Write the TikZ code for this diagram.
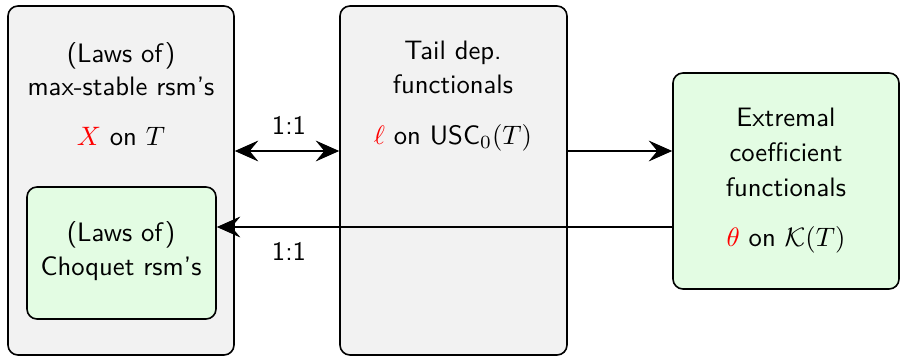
\documentclass[tikz,border=0pt]{standalone}
\usetikzlibrary{arrows.meta}
\definecolor{boxgray}{RGB}{242,242,242}
\definecolor{boxgreen}{RGB}{227,252,227}
\begin{document}
\begin{tikzpicture}[x=0.375pt,y=-0.375pt,
 box/.style={draw, line width=0.6pt, rounded corners=3.75pt, inner sep=0pt},
 graybox/.style={box, fill=boxgray},
 greenbox/.style={box, fill=boxgreen},
 txt/.style={anchor=base, inner sep=0pt, font=\sffamily},
 tipstyle/.style={line width=0.75pt},
 arr/.style={tipstyle, -{Stealth[length=8.8pt,width=7.8pt,inset=3.2pt]}},
 darr/.style={tipstyle, {Stealth[length=8.8pt,width=7.8pt,inset=3.2pt]}-{Stealth[length=8.8pt,width=7.8pt,inset=3.2pt]}}
 ]
\useasboundingbox (0,0) rectangle (900,356);
\node[graybox, minimum width=84.75pt, minimum height=130.875pt] (L) at (121,180.5) {};
\node[graybox, minimum width=85.125pt, minimum height=130.875pt] (M) at (453.5,180.5) {};
\node[greenbox, minimum width=84.75pt, minimum height=81pt] (R) at (786,181) {};
\node[greenbox, minimum width=70.875pt, minimum height=49.5pt] (G) at (121.5,253) {};

\node[txt] (l1) at (121,63) {(Laws of)};
\node[txt] (l2) at (121,96) {max-stable rsm's};
\node[txt] (l3) at (121,146) {\textcolor{red}{$X$} on $T$};

\node[txt] (m1) at (453,60) {Tail dep.};
\node[txt] (m2) at (453,94) {functionals};
\node[txt] (m3) at (453,145) {\textcolor{red}{$\ell$} on USC$_0(T)$};

\node[txt] (r1) at (786,127) {Extremal};
\node[txt] (r2) at (786,162) {coefficient};
\node[txt] (r3) at (786,197) {functionals};
\node[txt] (r4) at (786,247) {\textcolor{red}{$\theta$} on $\mathcal{K}(T)$};

\node[txt] (g1) at (121,242) {(Laws of)};
\node[txt] (g2) at (121,275) {Choquet rsm's};

\coordinate (y1) at (0,151);
\coordinate (y2) at (0,227);
\draw[darr] (L.east |- y1) -- (M.west |- y1);
\draw[arr] (M.east |- y1) -- (R.west |- y1);
\draw[arr] (R.west |- y2) -- (G.east |- y2);

\node[txt] (a1) at (289,135) {1:1};
\node[txt] (a2) at (289,260) {1:1};
\end{tikzpicture}
\end{document}
